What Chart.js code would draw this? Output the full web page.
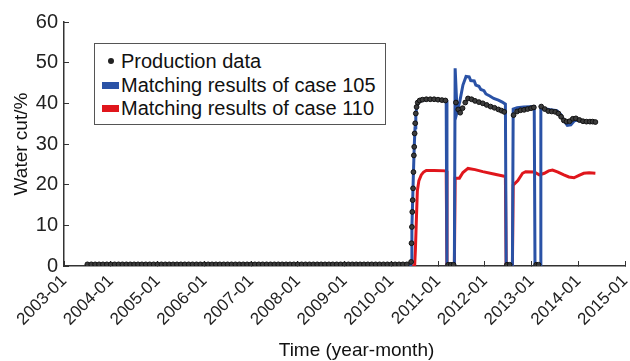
<!DOCTYPE html>
<html>
<head>
<meta charset="utf-8">
<script src="https://cdn.jsdelivr.net/npm/chart.js@4.4.0/dist/chart.umd.min.js"></script>
<style>
  html, body { margin: 0; padding: 0; background: #fff; }
  #wrap { position: relative; width: 630px; height: 361px; }
  #legend {
    position: absolute; left: 94px; top: 43px; width: 290px; height: 80px;
    border: 1.5px solid #555; background: #fff;
    font-family: "Liberation Sans", Arial, sans-serif; font-size: 20px; color: #111;
  }
  .row { position: absolute; left: 26px; height: 22px; line-height: 22px; white-space: nowrap; }
  .mark { position: absolute; }
</style>
</head>
<body>
<div id="wrap">
  <canvas id="waterCut" width="630" height="361"></canvas>
  <div id="legend"></div>
</div>
<script>
// time axis: months since 2003-01
const yearLabels = ['2003-01', '2004-01', '2005-01', '2006-01', '2007-01', '2008-01', '2009-01',
  '2010-01', '2011-01', '2012-01', '2013-01', '2014-01', '2015-01'];

// production data (dots)
const prodMonths = [
  6, 7, 8, 9, 10, 11, 12, 13, 14, 15, 16, 17, 18, 19, 20, 21, 22, 23, 24, 25, 26, 27, 28, 29,
  30, 31, 32, 33, 34, 35, 36, 37, 38, 39, 40, 41, 42, 43, 44, 45, 46, 47, 48, 49, 50, 51, 52, 53,
  54, 55, 56, 57, 58, 59, 60, 61, 62, 63, 64, 65, 66, 67, 68, 69, 70, 71, 72, 73, 74, 75, 76, 77,
  78, 79, 80, 81, 82, 83, 84, 85, 86, 87, 88,
  89.1, 89.2, 89.3, 89.4, 89.5, 89.6, 89.7, 89.8, 89.9, 90.0, 90.15, 90.3, 90.5, 90.8, 91.3,
  92, 93, 94, 95, 96, 97, 97.9, 98.6, 99.3, 100.0,
  100.6, 101.2, 101.7, 102.3, 103.0, 103.7, 104.6, 105.5, 106.5, 107.5, 108.5, 109.5, 110.5,
  111.5, 112.3, 113.0, 113.7, 114.4,
  115.4, 116.3, 117.2, 118.1, 119.0, 119.9, 120.6, 121.2, 121.8,
  122.5, 123.4, 124.3, 125.2, 126.1, 126.9, 127.6, 128.3, 129.0, 129.8, 130.6, 131.4, 132.3,
  133.2, 134.1, 135.0, 135.7, 136.4
];
const prodValues = [
  0.4, 0.4, 0.4, 0.4, 0.4, 0.4, 0.4, 0.4, 0.4, 0.4, 0.4, 0.4, 0.4, 0.4, 0.4, 0.4, 0.4, 0.4, 0.4, 0.4, 0.4, 0.4, 0.4, 0.4,
  0.4, 0.4, 0.4, 0.4, 0.4, 0.4, 0.4, 0.4, 0.4, 0.4, 0.4, 0.4, 0.4, 0.4, 0.4, 0.4, 0.4, 0.4, 0.4, 0.4, 0.4, 0.4, 0.4, 0.4,
  0.4, 0.4, 0.4, 0.4, 0.4, 0.4, 0.4, 0.4, 0.4, 0.4, 0.4, 0.4, 0.4, 0.4, 0.4, 0.4, 0.4, 0.4, 0.4, 0.4, 0.4, 0.4, 0.4, 0.4,
  0.4, 0.4, 0.4, 0.4, 0.4, 0.4, 0.4, 0.4, 0.4, 0.4, 0.4,
  1.0, 5.6, 9.6, 13.3, 16.2, 19.1, 23.1, 27.2, 29.3, 32.6, 35.1, 37.5, 39.1, 40.2, 40.7,
  40.9, 41.0, 41.0, 41.0, 40.9, 40.8, 40.7, 0.3, 0.3, 0.3,
  40.2, 38.5, 37.7, 38.8, 40.2, 41.2, 41.0, 40.6, 40.3, 40.0, 39.6, 39.2, 38.9,
  38.5, 38.2, 37.9, 0.3, 0.3,
  37.1, 38.0, 38.3, 38.4, 38.6, 38.8, 39.0, 0.3, 0.3,
  39.2, 38.6, 38.1, 38.0, 37.9, 37.5, 36.7, 35.8, 35.5, 35.6, 36.2, 36.3, 35.9,
  35.6, 35.5, 35.5, 35.5, 35.4
];

// matching results of case 105 (blue)
const case105Months = [6, 89.0, 89.1, 89.3, 89.5, 89.7, 89.9, 90.1, 90.3, 90.6, 91.0, 92, 94, 96, 98.1,
  98.3, 100.2, 100.4, 100.9, 101.6, 102.4, 103.2, 104.0, 104.4, 105.3, 105.7, 106.5, 107.0, 107.8,
  108.3, 109.3, 110.3, 111.5, 112.5, 113.3, 113.5, 115.1, 115.3, 116.3, 118, 120.7, 120.9, 122.2,
  122.4, 124.5, 126.5, 127.5, 128.3, 129.2, 130.1, 131.0, 132.0, 133.0, 134.5, 136.4];
const case105Values = [0, 0, 1.0, 9.6, 16.2, 23.1, 29.3, 34, 37.5, 39.4, 40.3, 40.8, 41.0, 40.9, 40.7,
  0, 0, 48.6, 37.9, 40.5, 44.5, 46.6, 46.5, 45.6, 45.5, 44.5, 44.2, 43.4, 43.1,
  42.3, 41.8, 41.2, 40.8, 40.3, 39.8, 0, 0, 38.6, 38.9, 39.1, 39.2, 0, 0,
  38.8, 38.5, 38.2, 37.3, 35.8, 34.6, 34.7, 35.7, 35.9, 35.6, 35.4, 35.3];

// matching results of case 110 (red)
const case110Months = [6, 90.0, 90.2, 90.4, 90.7, 91.1, 91.7, 92.3, 93.0, 95, 98.1, 98.3, 100.2, 100.4,
  101.5, 102.4, 103.7, 105.5, 107.5, 110, 113.3, 113.5, 115.1, 115.3, 116.5, 117.7, 118.5, 120.7,
  122.0, 123.3, 124.4, 125.4, 126.8, 128.3, 129.6, 130.9, 132.2, 133.4, 134.8, 136.4];
const case110Values = [0, 0, 4, 10, 18.5, 21, 22.4, 23.1, 23.5, 23.5, 23.4, 0, 0, 21.6,
  21.6, 23.0, 24.0, 23.7, 23.2, 22.7, 22.0, 0, 0, 19.9, 21.0, 22.8, 23.2, 23.1,
  22.4, 22.8, 23.4, 23.6, 23.1, 22.4, 21.9, 21.7, 22.3, 22.8, 22.9, 22.8];

const toPoints = (xs, ys) => xs.map((x, i) => ({ x: x, y: ys[i] }));

const FONT = '"Liberation Sans", Arial, sans-serif';
const BLUE = '#2a52a6';
const RED = '#e0161c';

const xTitle = {
  id: 'xTitle',
  afterDraw(chart) {
    const { ctx, chartArea } = chart;
    ctx.save();
    ctx.font = '19px ' + FONT;
    ctx.fillStyle = '#111';
    ctx.textAlign = 'center';
    ctx.textBaseline = 'alphabetic';
    ctx.fillText('Time (year-month)', (chartArea.left + chartArea.right) / 2 + 12, 356);
    ctx.restore();
  }
};

const chart = new Chart(document.getElementById('waterCut'), {
  type: 'line',
  data: {
    datasets: [
      {
        label: 'Production data',
        data: toPoints(prodMonths, prodValues),
        showLine: false,
        pointRadius: 2.4,
        pointBackgroundColor: '#3c3c3c',
        pointBorderColor: '#111',
        pointBorderWidth: 1,
        backgroundColor: '#222',
        order: 0
      },
      {
        label: 'Matching results of case 105',
        data: toPoints(case105Months, case105Values),
        borderColor: BLUE,
        backgroundColor: BLUE,
        borderWidth: 3,
        pointRadius: 0,
        tension: 0,
        order: 1
      },
      {
        label: 'Matching results of case 110',
        data: toPoints(case110Months, case110Values),
        borderColor: RED,
        backgroundColor: RED,
        borderWidth: 3,
        pointRadius: 0,
        tension: 0,
        order: 2
      }
    ]
  },
  options: {
    responsive: false,
    animation: false,
    devicePixelRatio: 1,
    layout: { padding: { top: 22, right: 2, left: 0, bottom: 0 } },
    plugins: { legend: { display: false }, tooltip: { enabled: false } },
    scales: {
      x: {
        type: 'linear',
        min: 0,
        max: 144,
        afterFit: s => { s.height = 95; s.paddingRight = 0; s.paddingLeft = 0; },
        ticks: {
          stepSize: 12,
          callback: (v, i) => yearLabels[i],
          minRotation: 45,
          maxRotation: 45,
          padding: 10,
          color: '#222',
          font: { family: FONT, size: 17 }
        },
        grid: { drawOnChartArea: false, tickLength: -5, color: '#333', lineWidth: 1 },
        border: { color: '#333', width: 1.5 }
      },
      y: {
        min: 0,
        max: 60,
        afterFit: s => { s.width = 64; s.paddingTop = 0; s.paddingBottom = 0; },
        ticks: {
          stepSize: 10,
          padding: 11,
          color: '#222',
          font: { family: FONT, size: 20 }
        },
        grid: { drawOnChartArea: false, tickLength: -5, color: '#333', lineWidth: 1 },
        border: { color: '#333', width: 1.5 },
        title: {
          display: true,
          text: 'Water cut/%',
          color: '#111',
          font: { family: FONT, size: 19 },
          padding: { top: 10, bottom: 0 }
        }
      }
    }
  },
  plugins: [xTitle]
});

// legend box drawn as html over the plot
const legend = document.getElementById('legend');
const rowTops = [6, 30, 53];
chart.data.datasets.forEach((ds, i) => {
  const row = document.createElement('div');
  row.className = 'row';
  row.style.top = rowTops[i] + 'px';
  row.textContent = ds.label;
  legend.appendChild(row);
  const mark = document.createElement('div');
  mark.className = 'mark';
  if (i === 0) {
    mark.style.cssText = 'left:13px;width:6px;height:6px;border-radius:50%;background:#222;top:' + (rowTops[i] + 8) + 'px';
  } else {
    mark.style.cssText = 'left:7px;width:17px;height:7px;background:' + ds.borderColor + ';top:' + (rowTops[i] + 8) + 'px';
  }
  legend.appendChild(mark);
});
</script>
</body>
</html>
